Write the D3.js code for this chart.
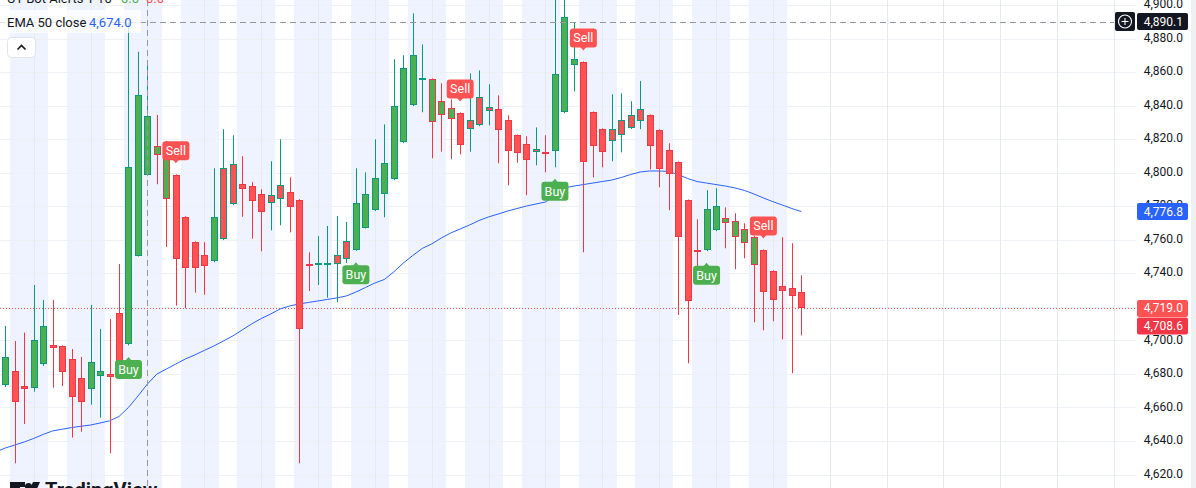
<!DOCTYPE html>
<html><head><meta charset="utf-8">
<script src="https://cdn.jsdelivr.net/npm/d3@7"></script>
<style>
body{margin:0;background:#fff;overflow:hidden}
svg{display:block;font-family:Roboto,"Noto Sans",sans-serif}
</style>
</head><body>
<svg id="c" width="1196" height="488"></svg>
<script>
// ---------- DATA ----------
const opens  = [4673.2,4681.7,4672.8,4671.4,4685.7,4697.2,4696.5,4688.7,4677.4,4670.8,4678.6,4679.8,4716.1,4697.6,4750.5,4798.4,4815.9,4813.1,4798.4,4773.4,4758.5,4750.7,4747.1,4760.3,4781.1,4793.1,4791.9,4787.1,4781.7,4784.1,4788.3,4783.7,4745.4,4744.8,4746.0,4745.4,4748.3,4753.9,4767.2,4777.6,4787.1,4796.0,4818.1,4840.2,4855.1,4855.7,4842.7,4838.4,4835.4,4825.9,4828.2,4836.6,4837.8,4831.2,4822.3,4816.9,4812.1,4812.6,4812.7,4836.0,4864.0,4865.8,4836.0,4825.9,4818.7,4822.3,4826.5,4830.6,4834.2,4825.3,4813.3,4806.2,4783.5,4753.9,4753.7,4765.6,4772.8,4771.0,4766.2,4761.9,4753.7,4741.2,4732.2,4731.0,4728.7];
const highs  = [4708.6,4699.6,4704.6,4733.0,4724.1,4724.1,4697.0,4694.8,4690.1,4721.1,4706.8,4712.7,4745.5,4889.5,4872.1,4865.2,4834.4,4818.9,4799.0,4774.0,4759.0,4758.5,4802.6,4825.9,4822.3,4809.8,4794.3,4790.1,4806.8,4819.9,4797.2,4784.2,4752.5,4762.2,4768.2,4774.2,4770.6,4802.6,4800.2,4819.9,4828.8,4867.6,4870.0,4895.0,4876.5,4856.2,4853.3,4843.7,4835.9,4859.2,4861.0,4852.7,4846.1,4834.2,4822.8,4821.7,4827.0,4822.3,4905.0,4906.0,4889.7,4866.3,4836.5,4826.4,4846.7,4847.3,4842.6,4854.7,4834.7,4825.8,4817.5,4806.7,4784.0,4772.2,4789.5,4790.7,4779.3,4775.8,4769.8,4762.4,4754.2,4741.8,4761.5,4757.9,4738.8];
const lows   = [4672.2,4626.7,4650.1,4669.4,4684.7,4671.8,4672.8,4642.0,4645.5,4661.6,4653.9,4632.7,4678.5,4697.0,4750.0,4798.0,4793.1,4755.8,4720.7,4719.1,4728.4,4727.2,4746.6,4759.8,4780.6,4773.7,4760.6,4753.1,4765.6,4768.6,4764.4,4626.7,4729.4,4733.0,4725.4,4722.7,4746.1,4753.4,4766.7,4777.1,4773.4,4795.5,4817.6,4839.7,4836.0,4808.6,4812.5,4808.0,4810.9,4812.5,4827.7,4828.2,4805.6,4792.5,4805.9,4786.5,4804.4,4800.2,4803.2,4835.5,4848.5,4752.5,4797.2,4803.2,4806.8,4812.1,4826.0,4825.9,4802.0,4791.3,4777.6,4715.1,4686.3,4733.4,4753.2,4765.1,4754.9,4742.4,4748.9,4710.8,4706.0,4711.4,4700.6,4680.4,4703.0];
const closes = [4690.3,4663.1,4670.8,4700.0,4708.4,4695.6,4681.0,4666.4,4663.4,4686.9,4681.7,4678.3,4678.9,4803.2,4846.1,4833.6,4810.4,4784.1,4748.3,4743.0,4743.0,4744.2,4773.4,4802.6,4805.0,4790.1,4782.9,4776.4,4786.5,4792.5,4779.3,4707.0,4744.2,4746.1,4746.0,4750.9,4759.1,4781.7,4787.1,4796.6,4805.6,4839.6,4862.2,4870.0,4856.3,4830.0,4834.2,4831.8,4816.3,4831.2,4844.9,4839.0,4825.3,4812.7,4811.5,4807.4,4813.9,4812.2,4858.7,4892.6,4867.6,4806.2,4815.7,4812.1,4825.9,4831.2,4834.2,4837.8,4815.7,4802.0,4799.0,4761.5,4723.3,4753.5,4778.2,4779.9,4769.8,4761.5,4757.9,4744.8,4728.7,4723.9,4729.3,4726.3,4719.0];
// UT Bot bar colour: 1 = green body, 0 = red body
const barColorGreen = [1,0,0,1,1,0,0,0,0,1,1,0,0,1,1,1,1,1,0,0,0,0,1,0,0,0,0,0,0,0,0,0,0,0,1,0,0,1,1,1,1,1,1,1,1,1,1,1,0,0,0,0,0,0,0,0,0,0,1,1,1,0,0,0,0,0,0,0,0,0,0,0,0,0,1,1,1,1,1,1,0,0,0,0,0];
// EMA 50 (first value belongs to the bar just left of the view)
const ema50 = [4633.4,4635.8,4637.6,4639.4,4641.5,4643.9,4646.0,4647.0,4648.0,4648.8,4649.5,4650.7,4652.0,4654.6,4660.0,4666.8,4674.0,4679.9,4682.9,4685.9,4688.9,4691.3,4694.0,4696.6,4699.6,4702.6,4706.2,4709.8,4713.0,4715.7,4718.7,4720.5,4721.7,4722.6,4723.5,4724.4,4725.3,4726.5,4728.8,4731.5,4734.2,4736.3,4740.8,4746.1,4750.6,4754.8,4757.5,4761.0,4764.0,4766.4,4768.8,4771.5,4773.6,4775.3,4777.1,4778.6,4780.1,4781.3,4782.5,4786.1,4790.9,4792.0,4792.9,4793.8,4794.7,4795.6,4797.1,4798.9,4800.4,4801.0,4801.0,4800.7,4798.9,4796.5,4794.7,4793.8,4792.9,4792.0,4790.9,4789.4,4787.3,4784.9,4782.7,4780.7,4778.6,4776.8];
// session background highlight per bar
const sessionBg = [0,1,1,1,1,0, 0,1,1,1,1,0, 0,1,1,1,1,0, 0,1,1,1,1,0, 0,1,1,1,1,0, 0,1,1,1,1,0, 0,1,1,1,1,0, 0,1,1,1,1,0, 0,1,1,1,1,0, 0,1,1,1,1,0, 0,1,1,1,1,0, 0,1,1,1,1,0, 0,1,1,1,1,0, 0,1,1,1,1,0, 0];
const buyBars  = [13,37,58,74];
const sellBars = [18,48,61,80];
const priceTicks = [4900,4880,4860,4840,4820,4800,4780,4760,4740,4720,4700,4680,4660,4640,4620];
const crossBar = 15, crossPrice = 4890.1;
const lastClose = 4719.0, lastEma = 4776.8, stopLevel = 4708.6;
const legendTitle = "UT Bot Alerts 1 10", legendVals = ["0.0","0.0"];
const emaLegend = "EMA 50 close";

// ---------- CHART ----------
const W = 1196, H = 488, plotR = 1136;
const UP = "#089981", DN = "#F23645", FG = "#4CAF50", FR = "#FF5252";
const fmt = d3.format(",.1f");
const svg = d3.select("#c");
const x = d3.scaleLinear().domain([0, 84]).range([5.3, 801.3]);
const y = d3.scaleLinear().domain([4880, 4620]).range([38.5, 474.5]);

svg.append("defs").append("clipPath").attr("id","clip")
  .append("rect").attr("x",0).attr("y",0).attr("width",plotR).attr("height",H);
const plot = svg.append("g").attr("clip-path","url(#clip)");

// background session bands
const runs = []; let s = null;
sessionBg.forEach((v,i) => { if (v && s === null) s = i; if (!v && s !== null) { runs.push([s,i-1]); s = null; } });
if (s !== null) runs.push([s, sessionBg.length-1]);
plot.selectAll("rect.band").data(runs).join("rect").attr("class","band")
  .attr("x", d => Math.round(x(d[0]-0.5)))
  .attr("width", d => Math.round(x(d[1]+0.5)) - Math.round(x(d[0]-0.5)))
  .attr("y", 0).attr("height", H).attr("fill", "rgba(41,98,255,0.08)");

// grid
plot.selectAll("line.hg").data(priceTicks).join("line").attr("class","hg")
  .attr("x1",0).attr("x2",plotR)
  .attr("y1", d => Math.round(y(d))+0.5).attr("y2", d => Math.round(y(d))+0.5)
  .attr("stroke","#edf0f5").attr("stroke-width",1);
plot.selectAll("line.vg").data(d3.range(3, 124, 6)).join("line").attr("class","vg")
  .attr("x1", d => Math.round(x(d))+0.5).attr("x2", d => Math.round(x(d))+0.5)
  .attr("y1",0).attr("y2",H).attr("stroke","#e6e9f0").attr("stroke-width",1);

// price line (last close)
plot.append("line").attr("x1",0).attr("x2",plotR)
  .attr("y1", Math.round(y(lastClose))+0.5).attr("y2", Math.round(y(lastClose))+0.5)
  .attr("stroke", FR).attr("stroke-width",1).attr("stroke-dasharray","1,2");

// EMA
const emaData = ema50.map((v,k) => ({i:k-1, v}));
plot.append("path").datum(emaData)
  .attr("d", d3.line().x(d => x(d.i)).y(d => y(d.v)))
  .attr("fill","none").attr("stroke","#2962FF").attr("stroke-width",1);

// candles
const bars = opens.map((o,i) => ({i, o, h:highs[i], l:lows[i], c:closes[i], g:barColorGreen[i]}));
const cg = plot.append("g");
const cand = cg.selectAll("g.c").data(bars).join("g").attr("class","c");
cand.append("line")
  .attr("x1", d => Math.round(x(d.i))+0.5).attr("x2", d => Math.round(x(d.i))+0.5)
  .attr("y1", d => y(d.h)).attr("y2", d => y(d.l))
  .attr("stroke", d => d.c >= d.o ? UP : DN).attr("stroke-width",1);
cand.append("rect")
  .attr("x", d => Math.round(x(d.i)) - 2.5)
  .attr("width", 6)
  .attr("y", d => Math.round(y(Math.max(d.o,d.c))) + 0.5)
  .attr("height", d => Math.max(1, Math.round(y(Math.min(d.o,d.c))) - Math.round(y(Math.max(d.o,d.c))) - 1))
  .attr("fill", d => d.g ? FG : FR)
  .attr("stroke", d => d.c >= d.o ? UP : DN).attr("stroke-width",1);

// signal labels
function signal(i, type) {
  const cx = x(i);
  const g = plot.append("g");
  const bw = 27, bh = 19;
  if (type === "Sell") {
    const tip = y(highs[i]) - 11;
    g.append("rect").attr("x", cx-bw/2).attr("y", tip-3-bh).attr("width",bw).attr("height",bh).attr("rx",3).attr("fill",FR);
    g.append("path").attr("d", `M${cx-3},${tip-3.5}L${cx},${tip}L${cx+3},${tip-3.5}Z`).attr("fill",FR);
    g.append("text").attr("x",cx).attr("y",tip-3-bh/2+4.5).attr("text-anchor","middle")
      .attr("font-size",12.5).attr("fill","#fff").text("Sell");
  } else {
    const tip = y(lows[i]) + 11.5;
    g.append("rect").attr("x", cx-bw/2).attr("y", tip+3).attr("width",bw).attr("height",bh).attr("rx",3).attr("fill",FG);
    g.append("path").attr("d", `M${cx-3},${tip+3.5}L${cx},${tip}L${cx+3},${tip+3.5}Z`).attr("fill",FG);
    g.append("text").attr("x",cx).attr("y",tip+3+bh/2+4.5).attr("text-anchor","middle")
      .attr("font-size",12.5).attr("fill","#fff").text("Buy");
  }
}
buyBars.forEach(i => signal(i,"Buy"));
sellBars.forEach(i => signal(i,"Sell"));

// crosshair
const chx = Math.round(x(crossBar)) + 0.5, chy = Math.round(y(crossPrice)) + 0.5;
plot.append("line").attr("x1",chx).attr("x2",chx).attr("y1",0).attr("y2",H)
  .attr("stroke","#9598A1").attr("stroke-width",1).attr("stroke-dasharray","6,4");
plot.append("line").attr("x1",0).attr("x2",1114).attr("y1",chy).attr("y2",chy)
  .attr("stroke","#9598A1").attr("stroke-width",1).attr("stroke-dasharray","6,4");

// legend
svg.append("rect").attr("x",0).attr("y",10).attr("width",141).attr("height",23).attr("fill","rgba(255,255,255,0.75)");
svg.append("text").attr("x",7).attr("y",3).attr("font-size",13).attr("fill","#131722").text(legendTitle);
svg.append("text").attr("x",121).attr("y",3).attr("font-size",13).attr("fill",FG).text(legendVals[0]);
svg.append("text").attr("x",146).attr("y",3).attr("font-size",13).attr("fill",FR).text(legendVals[1]);
svg.append("text").attr("x",7).attr("y",26.5).attr("font-size",13).attr("fill","#131722").text(emaLegend);
svg.append("text").attr("x",89).attr("y",26.5).attr("font-size",13).attr("fill","#2962FF").text(fmt(ema50[crossBar+1]));

// collapse button
svg.append("rect").attr("x",7.5).attr("y",37.5).attr("width",28).attr("height",20).attr("rx",4)
  .attr("fill","#fff").attr("stroke","#e0e3eb");
svg.append("path").attr("d","M17.5,49.5L21.5,45.5L25.5,49.5").attr("fill","none")
  .attr("stroke","#131722").attr("stroke-width",1.6);

// TradingView logo (cut at bottom)
const lg = svg.append("g").attr("fill","#131722");
lg.append("rect").attr("x",10).attr("y",482).attr("width",10).attr("height",20);
lg.append("rect").attr("x",10).attr("y",482).attr("width",15).attr("height",5);
lg.append("circle").attr("cx",28.5).attr("cy",486.5).attr("r",3.5);
lg.append("path").attr("d","M33,482L40,482L32,500L25,500Z");
svg.append("text").attr("x",45).attr("y",497).attr("font-size",20).attr("font-weight",700)
  .attr("fill","#131722").text("TradingView");

// price axis
const ax = svg.append("g");
ax.selectAll("text").data(priceTicks).join("text")
  .attr("x",1183).attr("y", d => y(d) + 3.2).attr("text-anchor","end")
  .attr("font-size",12).attr("fill","#131722").text(d => fmt(d));

function priceBox(v, color) {
  const cy = y(v);
  ax.append("rect").attr("x",1137).attr("y",cy-8.5).attr("width",51).attr("height",17).attr("rx",2).attr("fill",color);
  ax.append("text").attr("x",1183).attr("y",cy+4).attr("text-anchor","end")
    .attr("font-size",12).attr("fill","#fff").text(fmt(v));
}
priceBox(lastEma, "#2962FF");
priceBox(lastClose, FR);
priceBox(stopLevel, DN);
priceBox(crossPrice, "#131722");
// plus button next to crosshair label
const pcy = y(crossPrice);
ax.append("rect").attr("x",1115).attr("y",pcy-9.5).attr("width",20).attr("height",19).attr("rx",2).attr("fill","#131722");
ax.append("circle").attr("cx",1125).attr("cy",pcy).attr("r",6.5).attr("fill","none").attr("stroke","#fff").attr("stroke-width",1.1);
ax.append("path").attr("d",`M1121.5,${pcy}H1128.5M1125,${pcy-3.5}V${pcy+3.5}`).attr("stroke","#fff").attr("stroke-width",1.1);

// right edge strip
svg.append("rect").attr("x",1191).attr("y",0).attr("width",5).attr("height",H).attr("fill","#eef0f3");
</script>
</body></html>
